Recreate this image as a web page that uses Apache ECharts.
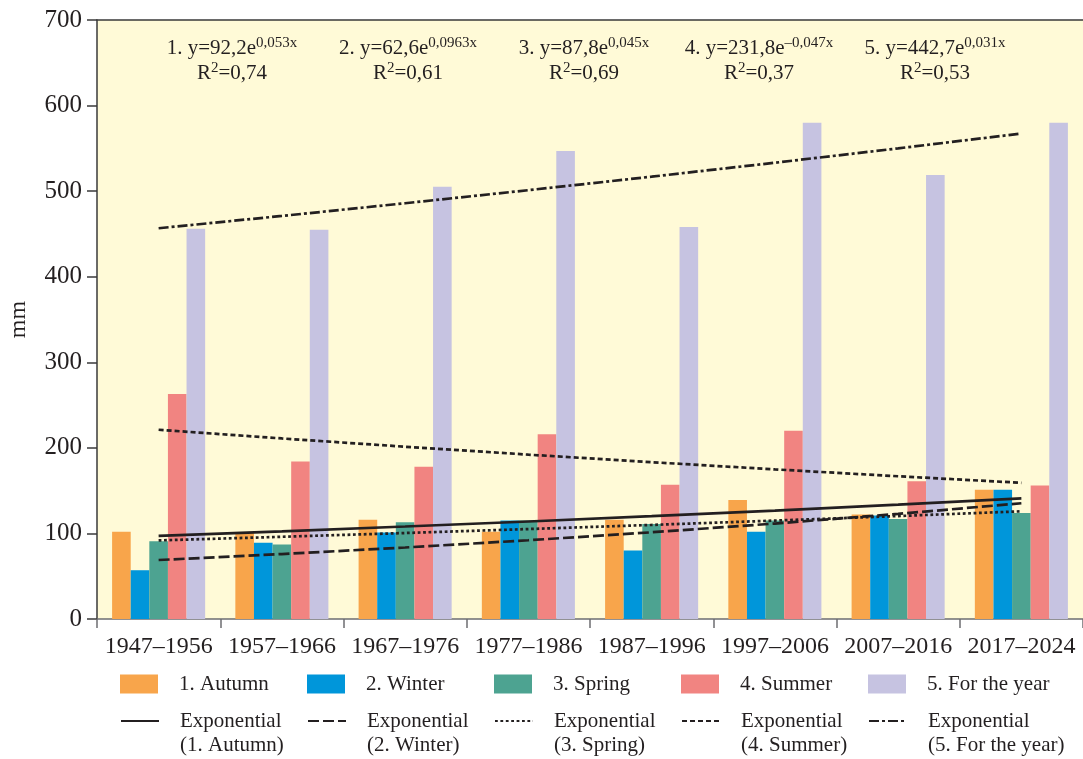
<!DOCTYPE html>
<html>
<head>
<meta charset="utf-8">
<script src="https://cdn.jsdelivr.net/npm/echarts@6/dist/echarts.min.js"></script>
<style>
  html, body { margin: 0; padding: 0; background: #ffffff; }
  #chart { width: 1083px; height: 759px; }
</style>
</head>
<body>
<div id="chart"></div>
<script>
// Decades on the category axis
const categories = ['1947–1956', '1957–1966', '1967–1976', '1977–1986',
                    '1987–1996', '1997–2006', '2007–2016', '2017–2024'];

// Precipitation totals, mm
const autumn = [102, 101, 116, 102, 116, 139, 122, 151];
const winter = [57, 89, 101, 115, 80, 102, 121, 151];
const spring = [91, 87, 113, 115, 111, 115, 117, 124];
const summer = [263, 184, 178, 216, 157, 220, 161, 156];
const year   = [456, 455, 505, 547, 458, 580, 519, 580];

const seriesNames = ['1. Autumn', '2. Winter', '3. Spring', '4. Summer', '5. For the year'];

// Exponential trends y = a·e^(b·x), x = 1..8, with their R²
const trendA  = [92.2, 62.6, 87.8, 231.8, 442.7];
const trendB  = [0.053, 0.0963, 0.045, -0.047, 0.031];
const trendR2 = [0.74, 0.61, 0.69, 0.37, 0.53];

const yTicks = { min: 0, max: 700, interval: 100 };

const values = [autumn, winter, spring, summer, year];
const colors = ['#F8A54B', '#0096DA', '#4DA391', '#F18481', '#C6C3E1'];
const dashes = ['solid', [11, 4], [2.8, 2.6], [5, 3], [10, 3, 3, 3]];
const ink = '#231F20';
const serif = "'Liberation Serif', 'Times New Roman', serif";

const chart = echarts.init(document.getElementById('chart'), null, { renderer: 'canvas' });

function comma(v) { return String(v).replace('.', ',').replace('-', '–'); }

const barSeries = seriesNames.map((name, i) => ({
  name: name,
  type: 'bar',
  data: values[i],
  barGap: 0,
  barCategoryGap: '24.5%',
  itemStyle: { color: colors[i] },
  emphasis: { disabled: true }
}));

const trendNames = seriesNames.map(n => 'Exponential (' + n + ')');
const lineSeries = trendNames.map((name, i) => ({
  name: name,
  type: 'line',
  data: categories.map((c, k) => +(trendA[i] * Math.exp(trendB[i] * (k + 1))).toFixed(2)),
  symbol: 'none',
  smooth: false,
  z: 5,
  itemStyle: { color: 'rgba(0,0,0,0)' },
  lineStyle: { color: ink, width: 2.7, type: dashes[i], cap: 'butt' },
  emphasis: { disabled: true }
}));

// Legend columns: fill swatch on the first row, trend line on the second
const legendText = { fontFamily: serif, fontSize: 21, color: ink, lineHeight: 24 };
const legends = [];
seriesNames.forEach((name, i) => {
  const left = 120 + 187 * i;
  legends.push({
    data: [{ name: name, icon: 'rect' }],
    left: left, top: 672, padding: 0,
    itemWidth: 38, itemHeight: 19,
    selectedMode: false,
    textStyle: Object.assign({ padding: [0, 0, 0, 16] }, legendText)
  });
  legends.push({
    data: [trendNames[i]],
    left: left, top: 685, padding: 0,
    itemWidth: 38, itemHeight: 14,
    selectedMode: false,
    // blank first line keeps the line sample level with "Exponential"
    formatter: n => '{g| }\n{t|' + n.replace(' (', '}\n{t|(') + '}',
    textStyle: Object.assign({
      padding: [0, 0, 0, 16],
      rich: { g: legendText, t: legendText }
    }, legendText)
  });
});

// Trend equations above the bars
const eqCenters = [232, 408, 584, 759, 935];
const equations = trendA.map((a, i) => ({
  type: 'text',
  x: eqCenters[i],
  y: 36,
  style: {
    text: '{m|' + (i + 1) + '. y=' + comma(a) + 'e}{s|' + comma(trendB[i]) + 'x}\n' +
          '{m|R}{s|2}{m|=' + comma(trendR2[i]) + '}',
    fill: ink,
    align: 'center',
    verticalAlign: 'top',
    rich: {
      m: { fontFamily: serif, fontSize: 21, lineHeight: 25, fill: ink },
      s: { fontFamily: serif, fontSize: 15, lineHeight: 25, fill: ink, verticalAlign: 'top', padding: [0, 0, 8, 0] }
    }
  }
}));

chart.setOption({
  animation: false,
  textStyle: { fontFamily: serif },
  grid: {
    left: 97, right: 0, top: 20, bottom: 140,
    containLabel: false,
    outerBoundsMode: 'none',
    show: true, backgroundColor: '#FFFAD7', borderWidth: 0
  },
  legend: legends,
  xAxis: [{
    type: 'category',
    data: categories,
    axisLine: { lineStyle: { color: '#6D6E71', width: 1.5 } },
    axisTick: { show: true, length: 9, lineStyle: { color: '#6D6E71', width: 1.5 } },
    axisLabel: { fontFamily: serif, fontSize: 24, color: ink, margin: 16, interval: 0 }
  }, {
    type: 'category',
    position: 'top',
    data: categories,
    axisLine: { show: true, lineStyle: { color: '#3A3A3A', width: 1.5 } },
    axisTick: { show: false },
    axisLabel: { show: false }
  }],
  yAxis: {
    type: 'value',
    min: yTicks.min, max: yTicks.max, interval: yTicks.interval,
    name: 'mm',
    nameLocation: 'middle',
    nameRotate: 90,
    nameGap: 66,
    nameMoveOverlap: false,
    nameTextStyle: { fontFamily: serif, fontSize: 24, color: ink },
    axisLine: { show: true, lineStyle: { color: '#3A3A3A', width: 1.5 } },
    axisTick: { show: true, length: 10, lineStyle: { color: '#3A3A3A', width: 1.5 } },
    axisLabel: { fontFamily: serif, fontSize: 25, color: ink, margin: 15 },
    splitLine: { show: false }
  },
  graphic: equations,
  series: barSeries.concat(lineSeries)
});
</script>
</body>
</html>
